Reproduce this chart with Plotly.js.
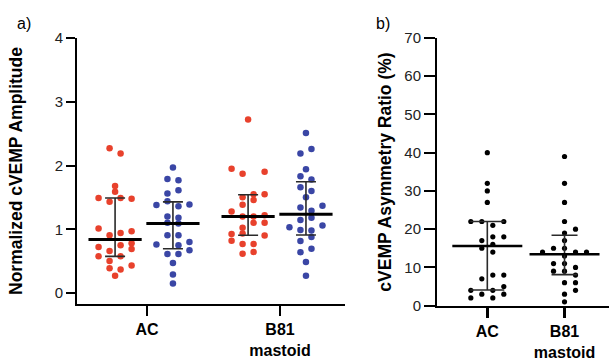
<!DOCTYPE html>
<html>
<head>
<meta charset="utf-8">
<script src="https://cdn.plot.ly/plotly-3.0.1.min.js"></script>
<style>html,body{margin:0;padding:0;background:#fff;}#chart{width:609px;height:362px;}</style>
</head>
<body>
<div id="chart"></div>
<script>
// ---------- data ----------
const categories = ['AC', 'B81<br>mastoid'];
const catPos = [1, 2];

// Panel a: normalized cVEMP amplitude (red = first side, blue = second side)
const ampRedAC = [2.27,2.19,1.68,1.59,1.49,1.43,1.49,1.48,1.01,0.905,0.94,0.97,0.78,0.72,0.66,0.75,0.69,0.575,0.575,0.50,0.39,0.37,0.43,0.27];
const ampRedACcol = [-1,1,0,0,-3,-1,1,3,-3,-1,1,3,3,-3,-1,1,3,-3,1,-1,-1,1,3,0];
const ampBlueAC = [1.97,1.79,1.77,1.61,1.56,1.44,1.38,1.36,1.39,1.20,1.18,1.10,1.09,0.905,0.905,0.76,0.80,0.75,0.67,0.61,0.61,0.47,0.29,0.15];
const ampBlueACcol = [0,-1,1,1,-1,-1,-3,1,3,-1,1,-1,1,-1,1,-3,3,1,3,-1,1,0,0,0];
const ampRedB81 = [2.72,1.95,1.87,1.90,1.55,1.55,1.50,1.46,1.385,1.28,1.20,1.20,1.22,1.10,1.10,1.025,0.935,0.925,0.90,0.82,0.77,0.77,0.645,0.615];
const ampRedB81col = [0,-3,-1,3,1,3,-1,1,-1,-3,-1,1,3,1,3,-1,-1,-3,3,-3,-1,1,1,-1];
const ampBlueB81 = [2.51,2.26,2.19,1.94,1.83,1.78,1.66,1.60,1.50,1.34,1.29,1.37,1.18,1.145,1.03,1.06,0.99,0.98,0.88,0.815,0.695,0.64,0.485,0.27];
const ampBlueB81col = [0,1,-1,0,-1,1,-1,1,0,-1,1,3,1,-1,-3,3,-1,1,1,-1,1,-1,0,0];

// medians and interquartile range
const ampRedMedian = [0.84, 1.20];
const ampRedQ1 = [0.575, 0.905];
const ampRedQ3 = [1.49, 1.54];
const ampBlueMedian = [1.09, 1.235];
const ampBlueQ1 = [0.695, 0.91];
const ampBlueQ3 = [1.43, 1.745];

// Panel b: cVEMP asymmetry ratio (%)
const asymAC = [40,32,30,27,22,22,22,21,18,18,17,16,15,14,8,8,7,5,4,4,3,3,2,2];
const asymACcol = [0,0,0,0,-3,-1,3,1,1,3,-1,1,-1,1,1,3,-1,3,-3,1,-1,3,-3,1];
const asymB81 = [39,32,27,22,20,19,17,15,15,14,14,14,13,11,11,10,9,9,8,6,6,4,3,1];
const asymB81col = [0,0,0,0,2,0,0,-2,0,-4,2,4,0,-2,0,2,-2,0,2,0,2,2,0,0];
const asymMedian = [15.6, 13.45];
const asymQ1 = [4.1, 8.1];
const asymQ3 = [22, 18.4];

const ampTicks = [0,1,2,3,4];
const asymTicks = [0,10,20,30,40,50,60,70];

// ---------- styling ----------
const RED = '#E8412C', BLUE = '#3A46A5';
const FONT = 'Liberation Sans, Arial, sans-serif';
const unitA = 0.0414, unitB = 0.0712;     // swarm column spacing (axis units)
const offRed = -0.24, offBlue = 0.195;    // group offsets in panel a

function swarm(vals, cols, pos, off, unit, color, size, xa, ya) {
  return {
    type: 'scatter', mode: 'markers', xaxis: xa, yaxis: ya, showlegend: false,
    x: vals.map((v, i) => pos + off + cols[i] * unit), y: vals,
    marker: {color: color, size: size, line: {width: 0}}, hoverinfo: 'y'
  };
}
function stat(pos, med, q1, q3, medLen, medW, capW, xa, ya) {
  return {
    type: 'scatter', mode: 'markers', xaxis: xa, yaxis: ya, showlegend: false,
    x: pos, y: med,
    marker: {symbol: 'line-ew', size: medLen, color: '#000', line: {color: '#000', width: medW}},
    error_y: {type: 'data', symmetric: false,
      array: med.map((m, i) => q3[i] - m), arrayminus: med.map((m, i) => m - q1[i]),
      color: '#2a2a2a', thickness: 1.6, width: capW},
    hoverinfo: 'y'
  };
}

const traces = [
  swarm(ampRedAC, ampRedACcol, catPos[0], offRed, unitA, RED, 6.5, 'x', 'y'),
  swarm(ampBlueAC, ampBlueACcol, catPos[0], offBlue, unitA, BLUE, 6.5, 'x', 'y'),
  swarm(ampRedB81, ampRedB81col, catPos[1], offRed, unitA, RED, 6.5, 'x', 'y'),
  swarm(ampBlueB81, ampBlueB81col, catPos[1], offBlue, unitA, BLUE, 6.5, 'x', 'y'),
  stat(catPos.map(p => p + offRed), ampRedMedian, ampRedQ1, ampRedQ3, 38, 3, 10, 'x', 'y'),
  stat(catPos.map(p => p + offBlue), ampBlueMedian, ampBlueQ1, ampBlueQ3, 38, 3, 10, 'x', 'y'),
  swarm(asymAC, asymACcol, catPos[0], 0, unitB, '#000', 5.2, 'x2', 'y2'),
  swarm(asymB81, asymB81col, catPos[1], 0, unitB, '#000', 5.2, 'x2', 'y2'),
  stat([catPos[0]], [asymMedian[0]], [asymQ1[0]], [asymQ3[0]], 50, 2.5, 17, 'x2', 'y2'),
  stat([catPos[1]], [asymMedian[1]], [asymQ1[1]], [asymQ3[1]], 50, 2.5, 13, 'x2', 'y2')
];

const axisCommon = {
  showgrid: false, zeroline: false, showline: true, linecolor: '#000', linewidth: 2,
  ticks: 'outside', tickcolor: '#000', fixedrange: true
};

const layout = {
  width: 609, height: 362,
  margin: {l: 77, r: 0, t: 38, b: 56},
  paper_bgcolor: '#fff', plot_bgcolor: '#fff',
  font: {family: FONT, color: '#000'},
  showlegend: false,
  xaxis: Object.assign({}, axisCommon, {
    domain: [0, 0.5038], range: [0.4737, 2.4887],
    tickvals: catPos, ticktext: categories, ticklen: 10, tickwidth: 2.5,
    tickfont: {family: FONT, size: 16, weight: 'bold', color: '#000'}, anchor: 'y'
  }),
  yaxis: Object.assign({}, axisCommon, {
    domain: [0.0075, 1], range: [-0.1725, 4],
    tickvals: ampTicks, ticklen: 9, tickwidth: 2,
    tickfont: {family: FONT, size: 15, color: '#222'}, anchor: 'x',
    title: {text: 'Normalized cVEMP Amplitude', standoff: 28,
      font: {family: FONT, size: 17.5, weight: 'bold', color: '#000'}}
  }),
  xaxis2: Object.assign({}, axisCommon, {
    domain: [0.6767, 1], range: [0.3484, 2.576],
    tickvals: catPos, ticktext: categories, ticklen: 10, tickwidth: 2.5,
    tickfont: {family: FONT, size: 16, weight: 'bold', color: '#000'}, anchor: 'y2'
  }),
  yaxis2: Object.assign({}, axisCommon, {
    domain: [0, 1], range: [-0.1, 70],
    tickvals: asymTicks, ticklen: 11, tickwidth: 2,
    tickfont: {family: FONT, size: 15, color: '#222'}, anchor: 'x2',
    title: {text: 'cVEMP Asymmetry Ratio (%)', standoff: 8,
      font: {family: FONT, size: 17.5, weight: 'bold', color: '#000'}}
  }),
  annotations: [
    {text: 'a)', xref: 'paper', yref: 'paper', x: -0.1, y: 1.055, xanchor: 'center', yanchor: 'middle',
      showarrow: false, font: {family: FONT, size: 16, color: '#000'}},
    {text: 'b)', xref: 'paper', yref: 'paper', x: 0.575, y: 1.055, xanchor: 'center', yanchor: 'middle',
      showarrow: false, font: {family: FONT, size: 16, color: '#000'}}
  ]
};

Plotly.newPlot('chart', traces, layout, {displayModeBar: false, staticPlot: true});
</script>
</body>
</html>
